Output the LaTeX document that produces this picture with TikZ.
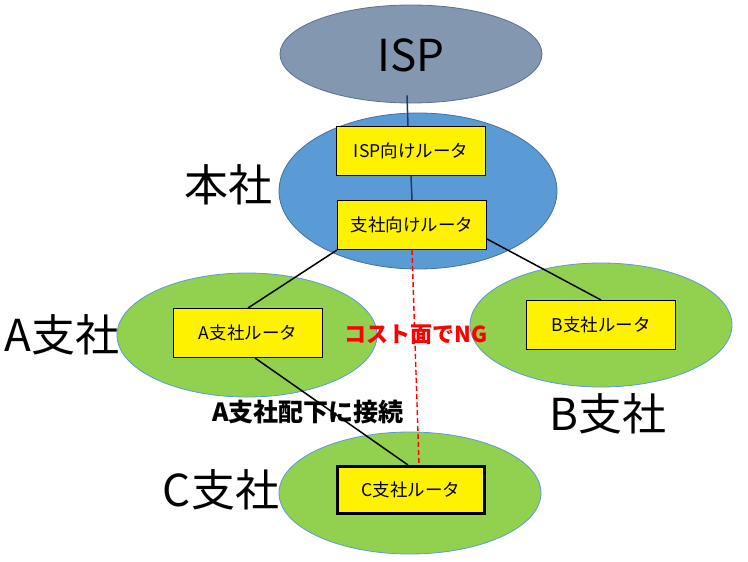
\documentclass[tikz,border=0pt]{standalone}
\usepackage{fontspec}
\setmainfont{Noto Sans CJK JP}
\usepackage{tikz}
\usetikzlibrary{positioning, shapes.geometric}

\definecolor{ispgray}{HTML}{8497B0}
\definecolor{ispedge}{HTML}{5B7090}
\definecolor{hqblue}{HTML}{5B9BD5}
\definecolor{hqedge}{HTML}{41719C}
\definecolor{brgreen}{HTML}{92D050}
\definecolor{linknavy}{HTML}{1F3864}

\begin{document}
\begin{tikzpicture}[
  x=1pt, y=-1pt,
  site/.style={ellipse, inner sep=0pt, line width=0.8pt},
  ispsite/.style={site, draw=ispedge, fill=ispgray},
  hqsite/.style={site, draw=hqedge, fill=hqblue},
  brsite/.style={site, draw=hqblue, fill=brgreen},
  router/.style={draw=black, fill=yellow, line width=1pt, inner sep=0pt,
    minimum width=149pt, minimum height=49pt, font=\fontsize{17.5}{20}\selectfont},
  sitelabel/.style={font=\fontsize{44}{48}\selectfont, inner sep=0pt},
  link/.style={line width=1.5pt, black},
  uplink/.style={line width=1.5pt, linknavy},
  nglink/.style={line width=1.4pt, red, dash pattern=on 5pt off 3pt},
]
  \useasboundingbox (0,0) rectangle (748,562);

  % Sites
  \node[ispsite, minimum width=262pt, minimum height=98pt] (isp) at (411,54) {};
  \node[hqsite, minimum width=278pt, minimum height=156pt] (hq) at (418,191) {};
  \node[brsite, minimum width=260pt, minimum height=124pt] (sa) at (247,335) {};
  \node[brsite, minimum width=262pt, minimum height=124pt] (sb) at (601,325) {};
  \node[brsite, minimum width=262pt, minimum height=122pt] (sc) at (410,493) {};

  % Routers
  \node[router] (ispr) at (411,151) {ISP向けルータ};
  \node[router] (bsr) at (412,225) {支社向けルータ};
  \node[router] (ar) at (248,333) {A支社ルータ};
  \node[router] (br) at (601,325) {B支社ルータ};
  \node[router, line width=3pt, minimum width=147pt, minimum height=47pt] (cr) at (411,490) {C支社ルータ};

  % Links
  \draw[uplink] ([shift={(-4,-8)}]isp.south) -- ([xshift=-3pt]ispr.north);
  \draw[uplink] (ispr.south) -- (bsr.north);
  \draw[link] (bsr.south west) -- (ar.north);
  \draw[link] ([shift={(0,14)}]bsr.east) -- (br.north);
  \draw[link] ([xshift=7pt]ar.south) -- ([xshift=-3pt]cr.north);
  \draw[nglink] (bsr.south) -- ([xshift=8pt]cr.north);

  % Labels
  \node[sitelabel] (ispname) at (411,55) {ISP};
  \node[sitelabel] (hqname) at (228,185) {本社};
  \node[sitelabel] (saname) at (62,335) {A支社};
  \node[sitelabel] (sbname) at (608,414) {B支社};
  \node[sitelabel] (scname) at (221,490) {C支社};
  \node[font=\bfseries\fontsize{22}{25}\selectfont, red, inner sep=0pt] (ngnote) at (416,335) {コスト面でNG};
  \node[font=\bfseries\fontsize{25}{28}\selectfont, inner sep=0pt] (vianote) at (308,412) {A支社配下に接続};
\end{tikzpicture}
\end{document}
